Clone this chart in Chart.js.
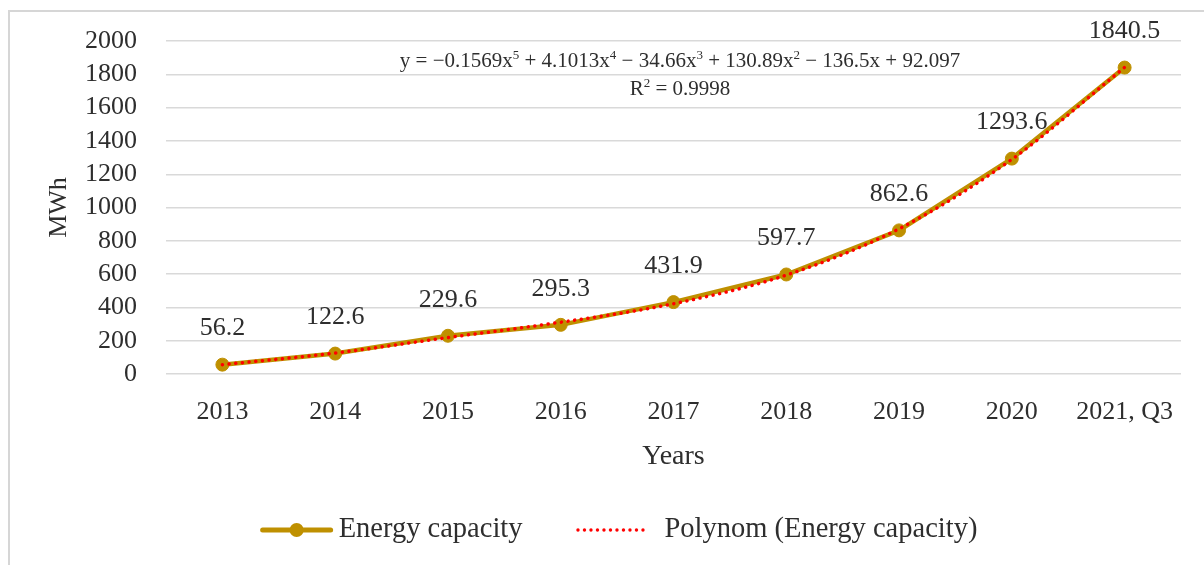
<!DOCTYPE html>
<html>
<head>
<meta charset="utf-8">
<script src="https://cdn.jsdelivr.net/npm/chart.js@4.4.1/dist/chart.umd.min.js"></script>
<style>
  body { margin: 0; background: #fff; overflow: hidden; }
  #wrap { position: relative; width: 1204px; height: 565px; }
  #frame { position: absolute; left: 8px; top: 10px; width: 1400px; height: 800px; border: 2px solid #d6d6d6; box-sizing: border-box; }
  canvas { position: absolute; left: 0; top: 0; }
</style>
</head>
<body>
<div id="wrap">
  <div id="frame"></div>
  <canvas id="chart" width="1204" height="565"></canvas>
</div>
<script>
const years = ['2013', '2014', '2015', '2016', '2017', '2018', '2019', '2020', '2021, Q3'];
const capacity = [56.2, 122.6, 229.6, 295.3, 431.9, 597.7, 862.6, 1293.6, 1840.5];
const trend = [56, 126, 219, 311, 422, 594, 872, 1289, 1842];
const yMin = 0, yMax = 2000, yStep = 200;
const seriesNames = ['Energy capacity', 'Polynom (Energy capacity)'];
const equation = [['y = \u22120.1569x', '5', ' + 4.1013x', '4', ' \u2212 34.66x', '3', ' + 130.89x', '2', ' \u2212 136.5x + 92.097'],
                  ['R', '2', ' = 0.9998']];

const gold = '#BF9000';
const red = '#FF0000';
const txt = '#2e2e2e';
const family = "'Liberation Serif', 'DejaVu Serif', serif";

const valueLabels = {
  id: 'valueLabels',
  afterDatasetsDraw(chart) {
    const ctx = chart.ctx;
    const meta = chart.getDatasetMeta(0);
    ctx.save();
    ctx.font = '26px ' + family;
    ctx.fillStyle = txt;
    ctx.textAlign = 'center';
    ctx.textBaseline = 'middle';
    meta.data.forEach((pt, i) => {
      ctx.fillText(String(capacity[i]), pt.x, pt.y - 36);
    });
    ctx.restore();
  }
};

const trendEquation = {
  id: 'trendEquation',
  afterDraw(chart) {
    const ctx = chart.ctx;
    const base = '21px ' + family, sup = '13px ' + family;
    const cx = 680;
    const ys = [61, 89];
    ctx.save();
    ctx.fillStyle = txt;
    ctx.textBaseline = 'middle';
    ctx.textAlign = 'left';
    equation.forEach((parts, li) => {
      let w = 0;
      parts.forEach((p, j) => { ctx.font = j % 2 ? sup : base; w += ctx.measureText(p).width; });
      let x = cx - w / 2;
      parts.forEach((p, j) => {
        ctx.font = j % 2 ? sup : base;
        ctx.fillText(p, x, ys[li] - (j % 2 ? 5 : 0));
        x += ctx.measureText(p).width;
      });
    });
    ctx.restore();
  }
};

// legend drawn by hand: gold line with marker, red dotted line
const bottomLegend = {
  id: 'bottomLegend',
  afterDraw(chart) {
    const ctx = chart.ctx;
    const y = 530;
    ctx.save();
    ctx.font = '28.5px ' + family;
    const w1 = ctx.measureText(seriesNames[0]).width;
    const w2 = ctx.measureText(seriesNames[1]).width;
    const total = 72 + 6 + w1 + 54 + 67 + 21 + w2;
    let x = 619 - total / 2;

    ctx.strokeStyle = gold; ctx.lineWidth = 5; ctx.lineCap = 'round';
    ctx.beginPath(); ctx.moveTo(x + 2, y); ctx.lineTo(x + 70, y); ctx.stroke();
    ctx.fillStyle = gold;
    ctx.beginPath(); ctx.arc(x + 36, y, 7, 0, Math.PI * 2); ctx.fill();
    x += 78;
    ctx.fillStyle = txt; ctx.textBaseline = 'middle'; ctx.textAlign = 'left';
    ctx.fillText(seriesNames[0], x, y);
    x += w1 + 54;

    ctx.fillStyle = red;
    for (let d = 1.5; d <= 67; d += 6.5) {
      ctx.beginPath(); ctx.arc(x + d, y, 1.7, 0, Math.PI * 2); ctx.fill();
    }
    x += 67 + 21;
    ctx.fillStyle = txt;
    ctx.fillText(seriesNames[1], x, y);
    ctx.restore();
  }
};

new Chart(document.getElementById('chart'), {
  type: 'line',
  data: {
    labels: years,
    datasets: [
      {
        label: seriesNames[0],
        data: capacity,
        borderColor: gold,
        backgroundColor: gold,
        borderWidth: 4.5,
        pointRadius: 6.5,
        pointBorderWidth: 1,
        pointBackgroundColor: gold,
        tension: 0,
        order: 2
      },
      {
        label: seriesNames[1],
        data: trend,
        borderColor: red,
        borderWidth: 3.5,
        borderDash: [0.1, 6.6],
        borderCapStyle: 'round',
        pointRadius: 0,
        cubicInterpolationMode: 'monotone',
        fill: false,
        order: 1
      }
    ]
  },
  options: {
    responsive: false,
    animation: false,
    layout: { padding: { left: 0, right: 23, top: 41, bottom: 59.6 } },
    scales: {
      x: {
        offset: true,
        grid: { display: false, drawTicks: false },
        border: { display: false },
        ticks: { color: txt, font: { family: family, size: 26 }, padding: 23, maxRotation: 0, autoSkip: false },
        title: { display: true, text: 'Years', color: txt, font: { family: family, size: 28 }, padding: { top: 0, bottom: 32 } },
        afterFit(s) { s.height = 131.4; }
      },
      y: {
        min: yMin,
        max: yMax,
        ticks: { stepSize: yStep, autoSkip: false, color: txt, font: { family: family, size: 26 }, padding: 29,
                 callback: v => String(v) },
        grid: { color: '#d9d9d9', lineWidth: 1.4, drawTicks: false },
        border: { display: false },
        title: { display: true, text: 'MWh', color: txt, font: { family: family, size: 26 }, padding: { top: 44, bottom: 0 } },
        afterFit(s) { s.width = 166; s.paddingTop = 0; s.paddingBottom = 0; }
      }
    },
    plugins: {
      tooltip: { enabled: false },
      legend: { display: false }
    }
  },
  plugins: [valueLabels, trendEquation, bottomLegend]
});
</script>
</body>
</html>
